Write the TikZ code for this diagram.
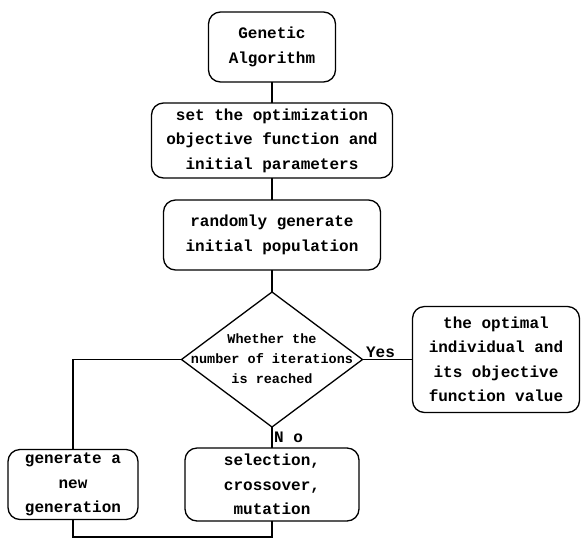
\documentclass[tikz,border=0pt]{standalone}
\usepackage{fontspec}
\usepackage{tikz}
\usetikzlibrary{shapes, positioning}
\newfontfamily\gamono{Liberation Mono}

\begin{document}
\begin{tikzpicture}[
        x=1pt, y=-1pt,
        stepbox/.style={
            rectangle, draw=black, line width=1.3pt, rounded corners=12pt, outer sep=0pt,
            inner sep=0pt, align=center, font=\gamono\bfseries\fontsize{16}{24.5}\selectfont
        },
        decision/.style={
            diamond, draw=black, line width=1.3pt, inner sep=0pt, outer sep=0pt,
            minimum width=181pt, minimum height=135pt,
            font=\gamono\bfseries\fontsize{13.5}{20}\selectfont
        },
        flow/.style={line width=1.3pt},
        tag/.style={inner sep=1.5pt, font=\gamono\bfseries\fontsize{16}{20}\selectfont}
    ]
        \useasboundingbox (0,0) rectangle (583,539);

        % Main column
        \node[stepbox, minimum width=127pt, minimum height=70pt] (ga) at (272,47) {Genetic\\Algorithm};
        \node[stepbox, below=21pt of ga, minimum width=241pt, minimum height=75pt] (setp) {set the optimization\\objective function and\\initial parameters};
        \node[stepbox, below=22pt of setp, minimum width=217pt, minimum height=70pt] (init) {randomly generate\\initial population};
        \node[decision, below=22pt of init] (cond) {\smash{\makebox[0pt]{\raisebox{-4pt}{\begin{tabular}{@{}c@{}}Whether the\\number of iterations\\is reached\end{tabular}}}}};
        \node[stepbox, below=21pt of cond, minimum width=174pt, minimum height=73pt] (ops) {selection,\\crossover,\\mutation};

        % Side boxes
        \node[stepbox, right=50pt of cond, minimum width=167pt, minimum height=106pt] (best) {the optimal\\individual and\\its objective\\function value};
        \node[stepbox, left=47pt of ops, minimum width=130pt, minimum height=70pt] (newgen) {generate a\\new\\generation};

        % Flow lines
        \draw[flow] (ga) -- (setp);
        \draw[flow] (setp) -- (init);
        \draw[flow] (init) -- (cond);
        \draw[flow] (cond.east) -- node[tag, pos=0.36, above] {Yes} (best.west);
        \draw[flow] (cond.south) -- node[tag, midway, right] {N o} (ops.north);
        \draw[flow] (cond.west) -| (newgen.north);
        \draw[flow] (ops.south) -- ++(0,16) -| (newgen.south);

    \end{tikzpicture}
\end{document}
